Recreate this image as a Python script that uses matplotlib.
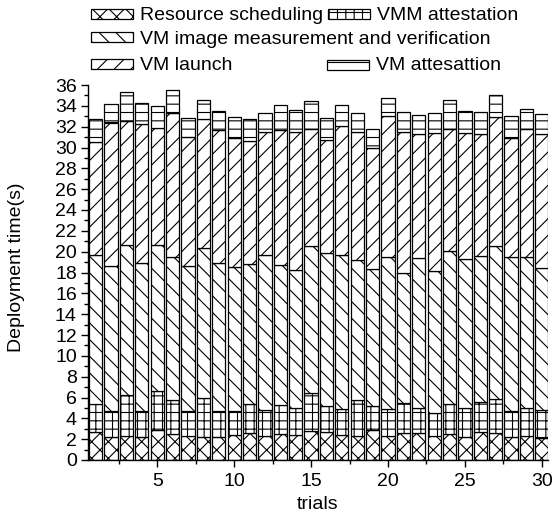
import matplotlib
matplotlib.use("Agg")
import matplotlib.pyplot as plt
from matplotlib.patches import Rectangle
from matplotlib.ticker import MultipleLocator
import numpy as np

plt.rcParams['font.family'] = ['Liberation Sans', 'DejaVu Sans']
plt.rcParams['hatch.linewidth'] = 0.8

trials = list(range(1, 31))
resource_scheduling = [2.7, 2.25, 2.3, 2.25, 2.9, 2.5, 2.3, 2.25, 2.25, 2.4,
                       2.6, 2.3, 2.45, 2.4, 2.8, 2.65, 2.4, 2.3, 2.9, 2.3,
                       2.55, 2.6, 2.3, 2.45, 2.25, 2.7, 2.6, 2.2, 2.3, 2.1]
vmm_attestation = [2.7, 2.45, 3.95, 2.45, 3.7, 3.3, 2.4, 3.75, 2.45, 2.35,
                   2.8, 2.5, 2.85, 2.6, 3.65, 2.5, 2.5, 3.5, 2.25, 2.6,
                   2.9, 2.4, 2.2, 2.95, 2.75, 2.85, 3.3, 2.5, 2.7, 2.7]
vm_image = [14.3, 13.9, 14.35, 14.2, 14.0, 13.7, 13.95, 14.4, 14.2, 13.75,
            13.45, 14.9, 13.45, 13.2, 14.05, 14.75, 14.8, 13.4, 13.2, 14.6,
            12.55, 14.4, 13.6, 14.65, 14.3, 14.05, 14.6, 14.8, 14.5, 13.6]
vm_launch = [10.8, 13.8, 11.9, 13.4, 11.3, 13.8, 12.35, 12.3, 12.8, 12.4,
             11.75, 11.8, 12.95, 13.3, 11.3, 10.8, 12.4, 12.3, 11.65, 13.5,
             13.45, 11.85, 13.3, 11.75, 12.1, 11.7, 12.4, 11.4, 12.3, 12.85]
vm_attestation = [2.2, 1.8, 2.8, 2.0, 2.1, 2.2, 1.8, 1.9, 1.8, 2.05,
                  2.1, 1.8, 2.4, 2.1, 2.7, 2.1, 2.0, 1.8, 1.8, 1.8,
                  1.95, 1.85, 1.9, 2.75, 2.1, 2.1, 2.1, 2.1, 1.85, 1.95]

series = [
    ("Resource scheduling", resource_scheduling, "xx"),
    ("VMM attestation", vmm_attestation, "++"),
    ("VM image measurement and verification", vm_image, "\\\\"),
    ("VM launch", vm_launch, "//"),
    ("VM attesattion", vm_attestation, "--"),
]

W, H = 553, 515
fig = plt.figure(figsize=(W / 100, H / 100), dpi=100)
ax = fig.add_axes([87.7 / W, 1 - 460 / H, (548 - 87.7) / W, (460 - 85) / H])

bottom = np.zeros(len(trials))
for name, vals, hatch in series:
    ax.bar(trials, vals, width=0.86, bottom=bottom, facecolor="white",
           edgecolor="black", linewidth=0.9, hatch=hatch)
    bottom = bottom + np.array(vals)

ax.set_xlim(0.48, 30.4)
ax.set_ylim(0, 36)
ax.xaxis.set_major_locator(MultipleLocator(5))
ax.xaxis.set_minor_locator(MultipleLocator(2.5))
ax.yaxis.set_major_locator(MultipleLocator(2))
ax.yaxis.set_minor_locator(MultipleLocator(1))
ax.spines['top'].set_visible(False)
ax.spines['right'].set_visible(False)
for s in ('left', 'bottom'):
    ax.spines[s].set_linewidth(1.0)
ax.tick_params(which='major', direction='out', length=4.8, width=1.0,
               labelsize=14, pad=3)
ax.tick_params(which='minor', direction='out', length=3, width=1.0)
ax.tick_params(axis='x', which='major', pad=4.5)

ax.set_xlabel("trials", fontsize=14)
ax.set_ylabel("Deployment time(s)", fontsize=14)
ax.xaxis.set_label_coords(0.5, -0.096)
ax.yaxis.set_label_coords(-0.136, 0.515)

# legend drawn manually (pixel positions of the reference)
legend_items = [
    (series[0], 91, 9, 140, 20),
    (series[1], 328, 9, 377, 20),
    (series[2], 91, 32, 140, 43.5),
    (series[3], 91, 59, 140, 70),
    (series[4], 327, 60, 376, 70),
]
for (name, vals, hatch), hx, hy, tx, ty in legend_items:
    r = Rectangle((hx / W, 1 - (hy + 10) / H), 42 / W, 10 / H,
                  transform=fig.transFigure, facecolor="white",
                  edgecolor="black", linewidth=0.9, hatch=hatch)
    fig.add_artist(r)
    fig.text(tx / W, 1 - ty / H, name, fontsize=14, ha="left", va="baseline")

fig.savefig("out.png", dpi=100)
